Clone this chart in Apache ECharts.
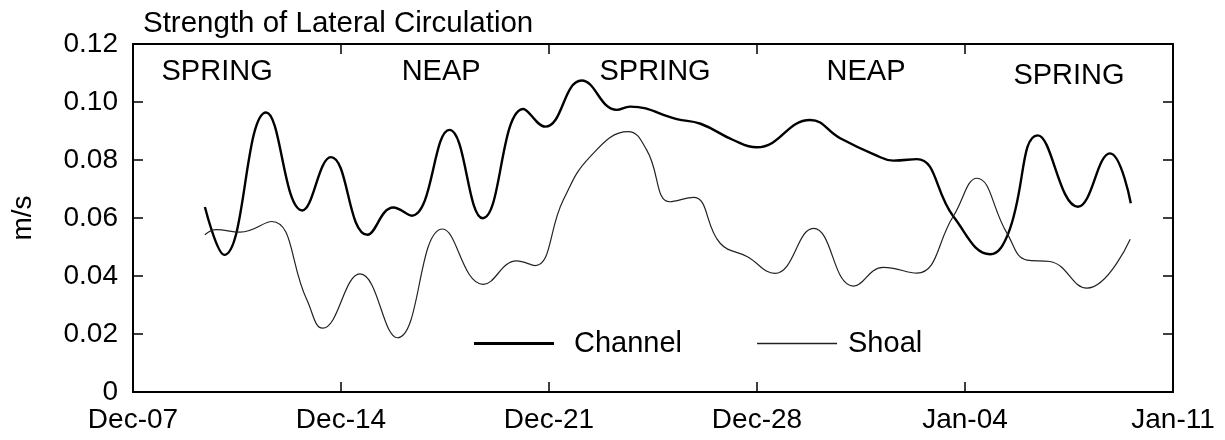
<!DOCTYPE html>
<html>
<head>
<meta charset="utf-8">
<script src="https://cdn.jsdelivr.net/npm/echarts@6/dist/echarts.min.js"></script>
<style>
  html, body { margin: 0; padding: 0; background: #fff; }
  #chart { width: 1225px; height: 440px; }
</style>
</head>
<body>
<div id="chart"></div>
<script>
// Days are counted from Dec-07; one tick per week.
var xTickLabels = ['Dec-07', 'Dec-14', 'Dec-21', 'Dec-28', 'Jan-04', 'Jan-11'];
var yTickLabels = ['0', '0.02', '0.04', '0.06', '0.08', '0.10', '0.12'];

// Channel: [day, m/s]
var channelDays = [2.42, 3.07, 4.48, 5.70, 6.66, 7.89, 8.76, 9.38, 10.65, 11.77, 13.14, 13.87, 15.10, 16.28, 16.73, 18.30, 19.10, 20.20, 20.99, 22.79, 23.80, 24.97, 25.59, 26.38, 27.61, 28.85, 29.46, 30.45, 31.80, 32.88, 33.58];
var channelValues = [0.0638, 0.0473, 0.0964, 0.0626, 0.0810, 0.0542, 0.0636, 0.0608, 0.0904, 0.0599, 0.0976, 0.0915, 0.1074, 0.0973, 0.0984, 0.0941, 0.0925, 0.0869, 0.0844, 0.0938, 0.0875, 0.0818, 0.0798, 0.0803, 0.0605, 0.0475, 0.0548, 0.0885, 0.0639, 0.0823, 0.0651];

// Shoal: [day, m/s]
var shoalDays = [2.42, 2.80, 3.60, 4.67, 5.85, 6.38, 7.64, 8.90, 10.42, 11.79, 12.91, 13.53, 14.48, 15.38, 16.67, 17.29, 18.07, 18.86, 19.76, 20.66, 21.60, 22.90, 24.25, 25.25, 26.38, 27.60, 28.40, 29.41, 30.08, 30.86, 32.10, 33.56];
var shoalValues = [0.0542, 0.0560, 0.0551, 0.0588, 0.0318, 0.0220, 0.0407, 0.0187, 0.0562, 0.0371, 0.0452, 0.0436, 0.0662, 0.0811, 0.0898, 0.0834, 0.0656, 0.0671, 0.0513, 0.0467, 0.0409, 0.0564, 0.0365, 0.0430, 0.0410, 0.0605, 0.0737, 0.0548, 0.0455, 0.0450, 0.0358, 0.0527];

// Tidal phase annotations
var phaseNames = ['SPRING', 'NEAP', 'SPRING', 'NEAP', 'SPRING'];
var phaseDays = [2.83, 10.37, 17.57, 24.67, 31.50];
var phaseValues = [0.1103, 0.1103, 0.1103, 0.1103, 0.1090];

function zip(xs, ys) {
  return xs.map(function (x, i) { return [x, ys[i]]; });
}

var FONT = 'Liberation Sans, Arial, sans-serif';
var FS = 28;
var chart = echarts.init(document.getElementById('chart'), null, { renderer: 'canvas' });

function frameLine() { return { show: true, onZero: false, lineStyle: { color: '#000', width: 2 } }; }
function innerTick() { return { show: true, inside: true, length: 10, lineStyle: { color: '#000', width: 1.5 } }; }

// value axis skeleton shared by the labelled axes and the tick-only frame axes
function xAxisDef(position, withLabels) {
  return {
    type: 'value', position: position, min: 0, max: 35, interval: 7,
    axisLine: frameLine(), splitLine: { show: false },
    axisTick: withLabels ? { show: false } : innerTick(),
    axisLabel: withLabels ? {
      margin: 14, fontFamily: FONT, fontSize: FS, color: '#000',
      formatter: function (v) { return xTickLabels[Math.round(v / 7)]; }
    } : { show: false }
  };
}
function yAxisDef(position, withLabels) {
  var axis = {
    type: 'value', position: position, min: 0, max: 0.12, interval: 0.02,
    axisLine: frameLine(), splitLine: { show: false },
    axisTick: withLabels ? { show: false } : innerTick(),
    axisLabel: withLabels ? {
      margin: 15, fontFamily: FONT, fontSize: FS, color: '#000',
      formatter: function (v) { return yTickLabels[Math.round(v / 0.02)]; }
    } : { show: false }
  };
  if (withLabels) {
    axis.name = 'm/s';
    axis.nameLocation = 'middle';
    axis.nameGap = 96;
    axis.nameRotate = 90;
    axis.nameTextStyle = { fontFamily: FONT, fontSize: FS, color: '#000' };
  }
  return axis;
}

chart.setOption({
  animation: false,
  backgroundColor: '#fff',
  title: {
    text: 'Strength of Lateral Circulation',
    left: 138,
    top: 4,
    textStyle: { fontFamily: FONT, fontSize: 29.5, fontWeight: 'normal', color: '#000' }
  },
  grid: { left: 133, right: 52, top: 44, bottom: 48 },
  legend: {
    left: 469,
    top: 324,
    itemWidth: 80,
    itemHeight: 3,
    itemGap: 75,
    symbolKeepAspect: true,
    textStyle: { fontFamily: FONT, fontSize: 29, color: '#000' },
    data: [
      { name: 'Channel', icon: 'path://M0,0H80V3H0Z', itemStyle: { color: '#000' },
        textStyle: { padding: [0, 0, 0, 15] } },
      { name: 'Shoal', icon: 'path://M0,0H80V1.4H0Z', itemStyle: { color: '#222' },
        textStyle: { padding: [0, 0, 0, 6] } }
    ]
  },
  xAxis: [xAxisDef('bottom', true), xAxisDef('top', false), xAxisDef('bottom', false)],
  yAxis: [yAxisDef('left', true), yAxisDef('right', false), yAxisDef('left', false)],
  series: [
    {
      name: 'Channel', type: 'line', smooth: 0.45, symbol: 'none',
      data: zip(channelDays, channelValues),
      lineStyle: { color: '#000', width: 2.4 }
    },
    {
      name: 'Shoal', type: 'line', smooth: 0.45, symbol: 'none',
      data: zip(shoalDays, shoalValues),
      lineStyle: { color: '#222', width: 1.2 }
    },
    {
      // keeps the mirrored top/right axes active
      name: 'frameTopRight', type: 'line', xAxisIndex: 1, yAxisIndex: 1, data: [],
      symbol: 'none', silent: true
    },
    {
      // keeps the inner-tick bottom/left axes active
      name: 'frameBottomLeft', type: 'line', xAxisIndex: 2, yAxisIndex: 2, data: [],
      symbol: 'none', silent: true
    },
    {
      name: 'phase', type: 'scatter', symbolSize: 0, silent: true,
      itemStyle: { opacity: 1 },
      data: phaseNames.map(function (n, i) { return { name: n, value: [phaseDays[i], phaseValues[i]] }; }),
      label: {
        show: true, position: 'inside', formatter: '{b}',
        fontFamily: FONT, fontSize: 29, color: '#000', opacity: 1, textBorderWidth: 0
      }
    }
  ]
});
</script>
</body>
</html>
